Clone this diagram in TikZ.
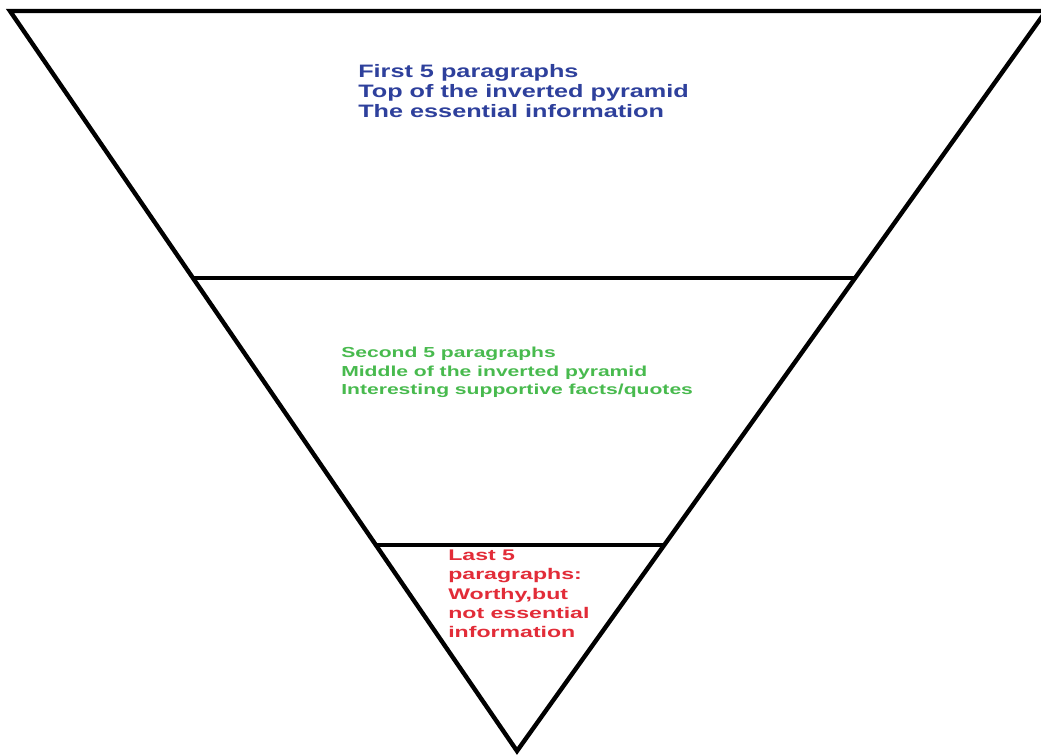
\documentclass[tikz,border=0pt]{standalone}
\usepackage{fontspec}
\setmainfont{Liberation Sans}
\usetikzlibrary{calc}
\definecolor{tblue}{RGB}{46,64,156}
\definecolor{tgreen}{RGB}{72,186,78}
\definecolor{tred}{RGB}{226,44,56}
\tikzset{
  edge/.style={line width=4.4pt, line join=miter, line cap=butt},
  label/.style={anchor=north west, inner sep=0pt, align=left, xscale=1.5, transform shape, font=\bfseries}
}
\begin{document}
\begin{tikzpicture}[x=1pt,y=-1pt]
\useasboundingbox (0,0) rectangle (1041,755);
\clip (0,0) rectangle (1041,755);
\fill[white] (0,0) rectangle (1041,755);
\coordinate (TL) at (10,11);
\coordinate (TR) at (1046,11);
\coordinate (A) at (517,751);
\coordinate (L1) at ($(TL)!0.3608!(A)$);
\coordinate (R1) at ($(TR)!0.3608!(A)$);
\coordinate (L2) at ($(TL)!0.7216!(A)$);
\coordinate (R2) at ($(TR)!0.7216!(A)$);
\draw[edge] (TR) -- (TL) -- (A) -- cycle;
\draw[edge] (L1) -- (R1);
\draw[edge] (L2) -- (R2);
\node[label, xscale=0.935, text=tblue, font=\bfseries\fontsize{18}{20.3}\selectfont] (top) at (358,64)
  {First 5 paragraphs\\Top of the inverted pyramid\\The essential information};
\node[label, xscale=0.97, text=tgreen, font=\bfseries\fontsize{14.5}{18.3}\selectfont] (mid) at (341,347)
  {Second 5 paragraphs\\Middle of the inverted pyramid\\Interesting supportive facts/quotes};
\node[label, text=tred, font=\bfseries\fontsize{15.4}{19.1}\selectfont] (low) at (448,550)
  {Last 5\\paragraphs:\\Worthy,but\\not essential\\information};
\end{tikzpicture}
\end{document}
